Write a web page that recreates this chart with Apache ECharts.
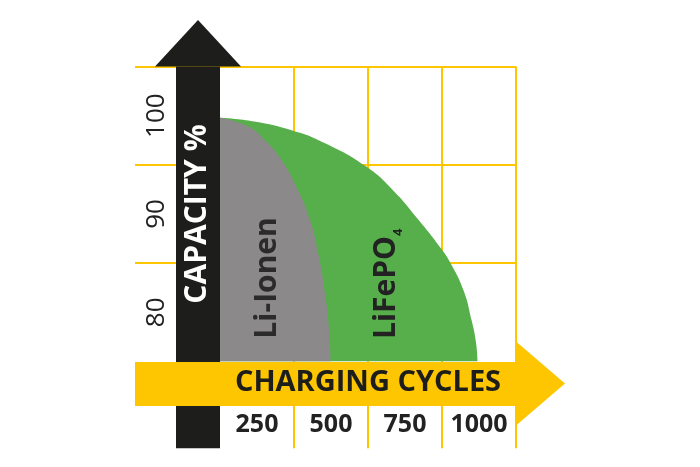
<!DOCTYPE html>
<html><head><meta charset="utf-8">
<script src="https://cdn.jsdelivr.net/npm/echarts@6/dist/echarts.min.js"></script>
<style>html,body{margin:0;padding:0;background:#fff}#c{width:700px;height:467px}</style>
</head><body><div id="c"></div>
<script>
// ---- data ----
const cycleTickLabels = ['250', '500', '750', '1000'];
const capacityTickLabels = [80, 90, 100];
const liIonCycles   = [0, 96, 152, 208, 264, 304, 332, 355, 368, 374];
const liIonCapacity = [99.8, 98.9, 97.5, 95.5, 92.4, 89.4, 86.0, 81.9, 78.5, 75];
const lfpCycles     = [0, 96, 244, 355, 495, 585, 671, 747, 779, 822, 850, 865, 870];
const lfpCapacity   = [99.8, 99.5, 98.5, 97.2, 94.8, 92.4, 89.4, 86.5, 85.0, 82.3, 79.2, 76.9, 75];
const seriesNames = ['Li-Ionen', 'LiFePO4'];
const xAxisName = 'CHARGING CYCLES';
const yAxisName = 'CAPACITY %';

// ---- styling / layout ----
const YELLOW = '#FDC600', BLACK = '#1D1D1B', GREEN = '#56AF4A', GREY = '#8B8989', TEXT = '#222222';
const FONT = 'Open Sans';
const liIonLabelAt = [162, 83.5];
const lfpLabelAt = [564, 82.9];

const pairs = (xs, ys) => xs.map((x, i) => [x, ys[i]]);
const chart = echarts.init(document.getElementById('c'), null, {renderer: 'canvas'});
const hidden = {axisLine: {show: false}, axisTick: {show: false}, axisLabel: {show: false}, splitLine: {show: false}};

chart.setOption({
  animation: false,
  backgroundColor: '#fff',
  grid: [
    {left: 135, top: 66.5, width: 381, height: 295, outerBoundsMode: 'none'},
    {left: 220, top: 66.5, width: 296, height: 381.8, outerBoundsMode: 'none'},
    {left: 220, top: 405, width: 296, height: 43.3, outerBoundsMode: 'none'}
  ],
  xAxis: [
    Object.assign({gridIndex: 0, type: 'value', min: -287, max: 1000, position: 'bottom'}, hidden),
    {gridIndex: 1, type: 'value', min: 0, max: 1000, interval: 250, position: 'bottom',
      axisLine: {show: false}, axisTick: {show: false}, axisLabel: {show: false},
      splitLine: {show: true, showMinLine: false, lineStyle: {color: YELLOW, width: 2}}},
    {gridIndex: 0, type: 'value', min: -287, max: 1000, position: 'bottom', offset: 22, z: 6,
      axisLine: {show: true, onZero: false, symbol: ['none', 'triangle'], symbolSize: [84, 49], symbolOffset: [0, 24.5],
        lineStyle: {color: YELLOW, width: 44, cap: 'butt'}},
      axisTick: {show: false}, axisLabel: {show: false}, splitLine: {show: false}},
    {gridIndex: 2, type: 'category', data: cycleTickLabels, boundaryGap: true, position: 'top', z: 7,
      axisLine: {show: false, onZero: false}, axisTick: {show: false}, splitLine: {show: false},
      axisLabel: {inside: true, interval: 0, margin: 20, verticalAlign: 'middle', fontSize: 25, fontWeight: 'bold',
        fontFamily: FONT, color: TEXT},
      name: xAxisName, nameLocation: 'middle', nameGap: 22, nameMoveOverlap: false,
      nameTextStyle: {color: BLACK, fontSize: 29, fontWeight: 'bold', fontFamily: FONT,
        align: 'center', verticalAlign: 'middle'}}
  ],
  yAxis: [
    {gridIndex: 0, type: 'value', min: 75, max: 105, interval: 10, position: 'left',
      axisLine: {show: false}, axisTick: {show: false}, axisLabel: {show: false},
      splitLine: {show: true, showMinLine: false, lineStyle: {color: YELLOW, width: 2}}},
    {gridIndex: 0, type: 'value', min: 75, max: 105, interval: 5, position: 'left', offset: -30, z: 7,
      axisLine: {show: false, onZero: false}, axisTick: {show: false}, splitLine: {show: false},
      axisLabel: {show: true, rotate: 90, margin: 8, verticalAlign: 'middle', align: 'center',
        fontSize: 26, fontFamily: FONT, color: TEXT, showMinLabel: true, showMaxLabel: true,
        formatter: v => capacityTickLabels.indexOf(Math.round(v)) >= 0 ? String(Math.round(v)) : ''},
      name: yAxisName, nameLocation: 'middle', nameGap: -32.5, nameRotate: 90, nameMoveOverlap: false,
      nameTextStyle: {color: '#ffffff', fontSize: 30, fontWeight: 'bold', fontFamily: FONT,
        align: 'center', verticalAlign: 'middle'}},
    {gridIndex: 1, type: 'value', min: 0, max: 1, position: 'left', offset: 22, z: 5,
      axisLine: {show: true, onZero: false, symbol: ['none', 'triangle'], symbolSize: [86, 46.5], symbolOffset: [0, 23.25],
        lineStyle: {color: BLACK, width: 44, cap: 'butt'}},
      axisTick: {show: false}, axisLabel: {show: false}, splitLine: {show: false}},
    Object.assign({gridIndex: 2, type: 'value', min: 0, max: 1, position: 'left'}, hidden)
  ],
  series: [
    {name: seriesNames[1], type: 'line', xAxisIndex: 0, yAxisIndex: 0,
      data: pairs(lfpCycles, lfpCapacity), smooth: 0.5, symbol: 'none',
      lineStyle: {width: 0, color: GREEN}, itemStyle: {color: GREEN},
      areaStyle: {color: GREEN, opacity: 1, origin: 'start'},
      markPoint: {symbol: 'circle', symbolSize: 1, itemStyle: {color: 'rgba(0,0,0,0)'},
        data: [{coord: lfpLabelAt}],
        label: {show: true, position: 'inside', rotate: 90, formatter: 'LiFePO{s|4}',
          color: TEXT, fontSize: 30, fontWeight: 'bold', fontFamily: FONT, lineHeight: 36,
          rich: {s: {fontSize: 13, fontWeight: 'bold', fontFamily: FONT, color: TEXT, lineHeight: 15, verticalAlign: 'bottom'}}}}},
    {name: seriesNames[0], type: 'line', xAxisIndex: 0, yAxisIndex: 0,
      data: pairs(liIonCycles, liIonCapacity), smooth: 0.5, symbol: 'none',
      lineStyle: {width: 0, color: GREY}, itemStyle: {color: GREY},
      areaStyle: {color: GREY, opacity: 1, origin: 'start'},
      markPoint: {symbol: 'circle', symbolSize: 1, itemStyle: {color: 'rgba(0,0,0,0)'},
        data: [{coord: liIonLabelAt}],
        label: {show: true, position: 'inside', rotate: 90, formatter: seriesNames[0],
          color: '#2B2B2B', fontSize: 30, fontWeight: 'bold', fontFamily: FONT}}}
  ]
});
</script></body></html>
